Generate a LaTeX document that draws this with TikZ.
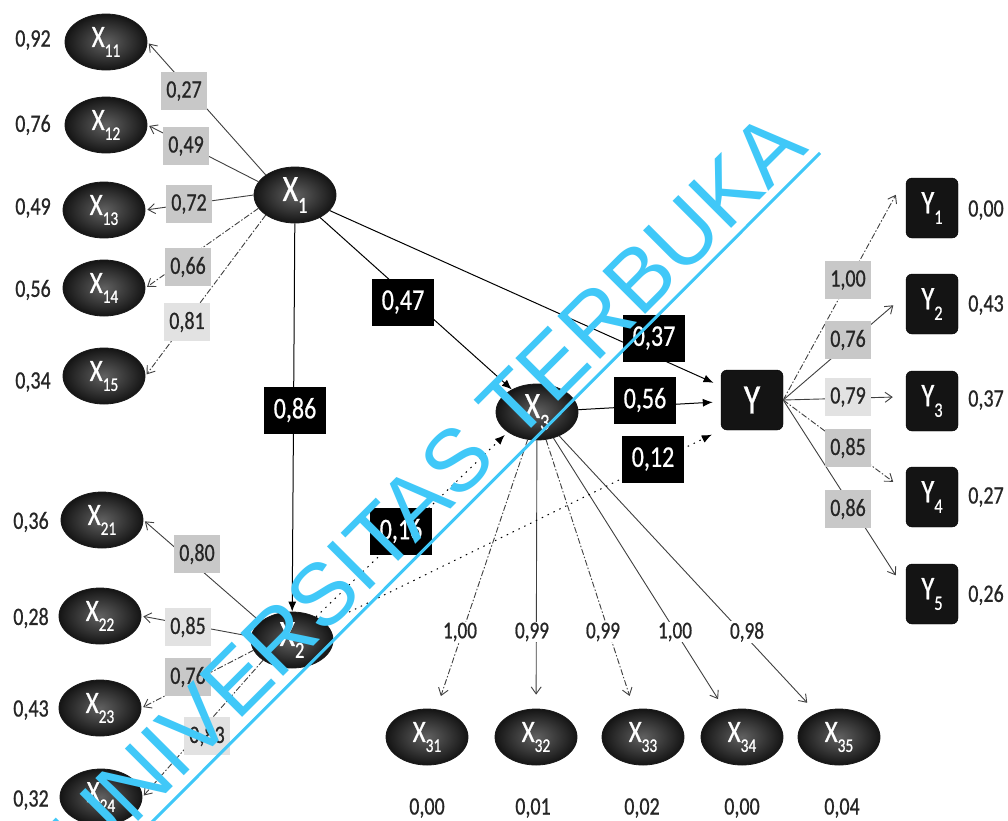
\documentclass[tikz,border=0pt]{standalone}
\usepackage{graphicx}
\usepackage{fontspec}
\setmainfont{Carlito}[FakeStretch=0.8,FakeBold=0.7]
\newfontfamily\wmfont{Liberation Sans}
\usetikzlibrary{shapes.geometric,arrows.meta,calc}

\definecolor{wmcyan}{RGB}{64,200,248}
\definecolor{boxgrey}{RGB}{200,200,200}
\definecolor{boxlight}{RGB}{226,226,226}

% subscript of a variable name
\newcommand\sbs[1]{\raisebox{-0.32em}{\scalebox{0.62}{#1}}}
\newcommand\fs[1]{\fontsize{#1}{#1}\selectfont}

\tikzset{
  x=1pt, y=-1pt,
  latent/.style={ellipse, minimum width=82pt, minimum height=56pt, inner sep=0pt,
    draw=black!90, line width=0.8pt, inner color=black!62, outer color=black!92,
    text=white, font=\fs{31}},
  biglatent/.style={latent, font=\fs{37}},
  indic/.style={rectangle, rounded corners=6pt, fill=black!92, draw=black,
    minimum width=52pt, minimum height=60pt, inner sep=0pt, text=white, font=\fs{33}},
  bigindic/.style={indic, minimum width=62pt, font=\fs{42}},
  greybox/.style={rectangle, fill=boxgrey, minimum width=46pt, minimum height=38pt,
    inner sep=2pt, text=black!85, font=\fs{25}},
  lightbox/.style={greybox, fill=boxlight},
  pathbox/.style={rectangle, fill=black, minimum width=62pt, minimum height=47pt,
    inner sep=2pt, text=white, font=\fs{30}},
  plainlab/.style={fill=white, inner sep=1pt, text=black!85, font=\fs{24}},
  errlab/.style={inner sep=0pt, text=black!85, font=\fs{25}},
  load/.style={draw=black!75, line width=0.9pt, shorten >=2pt,
    -{Straight Barb[length=7pt,width=10pt]}},
  loaddash/.style={load, dash pattern=on 6pt off 2pt on 1.5pt off 2pt},
  causal/.style={draw=black, line width=1pt, -{Latex[length=10pt,width=8pt]}},
  causaldot/.style={causal, dash pattern=on 1.5pt off 5pt},
}

\begin{document}
\begin{tikzpicture}
\useasboundingbox (0,0) rectangle (1008,820);
\fill[white] (0,0) rectangle (1008,820);
\clip (0,0) rectangle (1008,820);

% ---------- latent variables ----------
\node[biglatent] (X1) at (295,195) {X\sbs{1}};
\node[biglatent] (X2) at (292,640) {X\sbs{2}};
\node[biglatent] (X3) at (537,412) {X\sbs{3}};
\node[bigindic]  (Y)  at (752,400) {Y};

% ---------- indicators of X1 ----------
\node[latent] (X11) at (106,42)  {X\sbs{11}};
\node[latent] (X12) at (106,125) {X\sbs{12}};
\node[latent] (X13) at (104,210) {X\sbs{13}};
\node[latent] (X14) at (104,288) {X\sbs{14}};
\node[latent] (X15) at (104,376) {X\sbs{15}};

% ---------- indicators of X2 ----------
\node[latent] (X21) at (102,520) {X\sbs{21}};
\node[latent] (X22) at (100,616) {X\sbs{22}};
\node[latent] (X23) at (100,708) {X\sbs{23}};
\node[latent] (X24) at (101,797) {X\sbs{24}};

% ---------- indicators of X3 ----------
\node[latent] (X31) at (427,737) {X\sbs{31}};
\node[latent] (X32) at (536,737) {X\sbs{32}};
\node[latent] (X33) at (643,737) {X\sbs{33}};
\node[latent] (X34) at (742,737) {X\sbs{34}};
\node[latent] (X35) at (839,737) {X\sbs{35}};

% ---------- indicators of Y ----------
\node[indic] (Y1) at (932,208) {Y\sbs{1}};
\node[indic] (Y2) at (932,304) {Y\sbs{2}};
\node[indic] (Y3) at (932,401) {Y\sbs{3}};
\node[indic] (Y4) at (932,497) {Y\sbs{4}};
\node[indic] (Y5) at (932,594) {Y\sbs{5}};

% ---------- measurement connectors ----------
\draw[load]     (X1.north west) -- (X11.east);
\draw[load]     (X1.160) -- (X12.east);
\draw[load]     (X1.west) -- (X13.east);
\draw[loaddash] (X1.200) -- (X14.east);
\draw[loaddash] (X1.south west) -- (X15.east);

\draw[load]     (X2.150) -- (X21.east);
\draw[load]     (X2.175) -- (X22.east);
\draw[loaddash] (X2.195) -- (X23.east);
\draw[loaddash] (X2.215) -- (X24.east);

\draw[loaddash] (X3) -- (X31) [shorten >=14pt];
\draw[load]     (X3) -- (X32) [shorten >=14pt];
\draw[loaddash] (X3) -- (X33) [shorten >=14pt];
\draw[load]     (X3) -- (X34) [shorten >=14pt];
\draw[load]     (X3) -- (X35) [shorten >=14pt];

\draw[loaddash] (Y.east) -- ($(Y1.west)+(-9,-15)$);
\draw[load]     (Y.east) -- ($(Y2.west)+(-11,0)$);
\draw[load]     (Y.east) -- ($(Y3.west)+(-11,-4)$);
\draw[loaddash] (Y.east) -- ($(Y4.west)+(-11,-14)$);
\draw[load]     (Y.east) -- ($(Y5.west)+(-9,-17)$);

% ---------- structural connectors ----------
\draw[causal]    (X1) -- (X2);
\draw[causal]    (X1) -- (X3);
\draw[causal]    (X1) -- (Y) [shorten >=8pt];
\draw[causal]    (X3) -- (Y) [shorten >=8pt];
\draw[causaldot] (X2) -- (Y.south west) [shorten >=10pt];
\draw[causaldot] (X2) -- (X3.south west) [shorten >=4pt];

% ---------- loading labels ----------
\node[greybox]  (l11) at (184,91)  {0,27};
\node[greybox]  (l12) at (186,146) {0,49};
\node[greybox]  (l13) at (189,204) {0,72};
\node[greybox]  (l14) at (188,267) {0,66};
\node[lightbox] (l15) at (187,322) {0,81};

\node[greybox]  (l21) at (197,554) {0,80};
\node[lightbox] (l22) at (188,627) {0,85};
\node[greybox]  (l23) at (188,677) {0,76};
\node[lightbox] (l24) at (207,736) {0,83};

\node[plainlab] (l31) at (460,632) {1,00};
\node[plainlab] (l32) at (532,632) {0,99};
\node[plainlab] (l33) at (603,632) {0,99};
\node[plainlab] (l34) at (675,632) {1,00};
\node[plainlab] (l35) at (747,632) {0,98};

\node[greybox]  (ly1) at (848,280) {1,00};
\node[greybox]  (ly2) at (848,340) {0,76};
\node[lightbox] (ly3) at (848,397) {0,79};
\node[greybox]  (ly4) at (848,448) {0,85};
\node[greybox]  (ly5) at (848,509) {0,86};

% ---------- path coefficients ----------
\node[pathbox] (p12) at (295,410) {0,86};
\node[pathbox] (p13) at (403,302) {0,47};
\node[pathbox] (p1y) at (654,338) {0,37};
\node[pathbox] (p3y) at (645,400) {0,56};
\node[pathbox] (p2y) at (653,459) {0,12};
\node[pathbox] (p23) at (401,531) {0,16};

% ---------- error variances ----------
\node[errlab] at (33,40)  {0,92};
\node[errlab] at (33,125) {0,76};
\node[errlab] at (33,208) {0,49};
\node[errlab] at (33,290) {0,56};
\node[errlab] at (33,382) {0,34};

\node[errlab] at (31,522) {0,36};
\node[errlab] at (31,618) {0,28};
\node[errlab] at (31,710) {0,43};
\node[errlab] at (31,800) {0,32};

\node[errlab] at (427,808) {0,00};
\node[errlab] at (533,808) {0,01};
\node[errlab] at (642,808) {0,02};
\node[errlab] at (742,808) {0,00};
\node[errlab] at (842,808) {0,04};

\node[errlab] at (986,210) {0,00};
\node[errlab] at (986,305) {0,43};
\node[errlab] at (986,400) {0,37};
\node[errlab] at (986,497) {0,27};
\node[errlab] at (986,595) {0,26};

% ---------- watermark ----------
\node[rotate=45, anchor=base east, inner sep=0pt, text=wmcyan,
      font=\wmfont\fs{88}] (wm) at (810,150) {UNIVERSITAS TERBUKA};
\draw[wmcyan, line width=3pt] ($(wm.base west)+(7,7)$) -- ($(wm.base east)+(10,3)$);
\end{tikzpicture}
\end{document}
